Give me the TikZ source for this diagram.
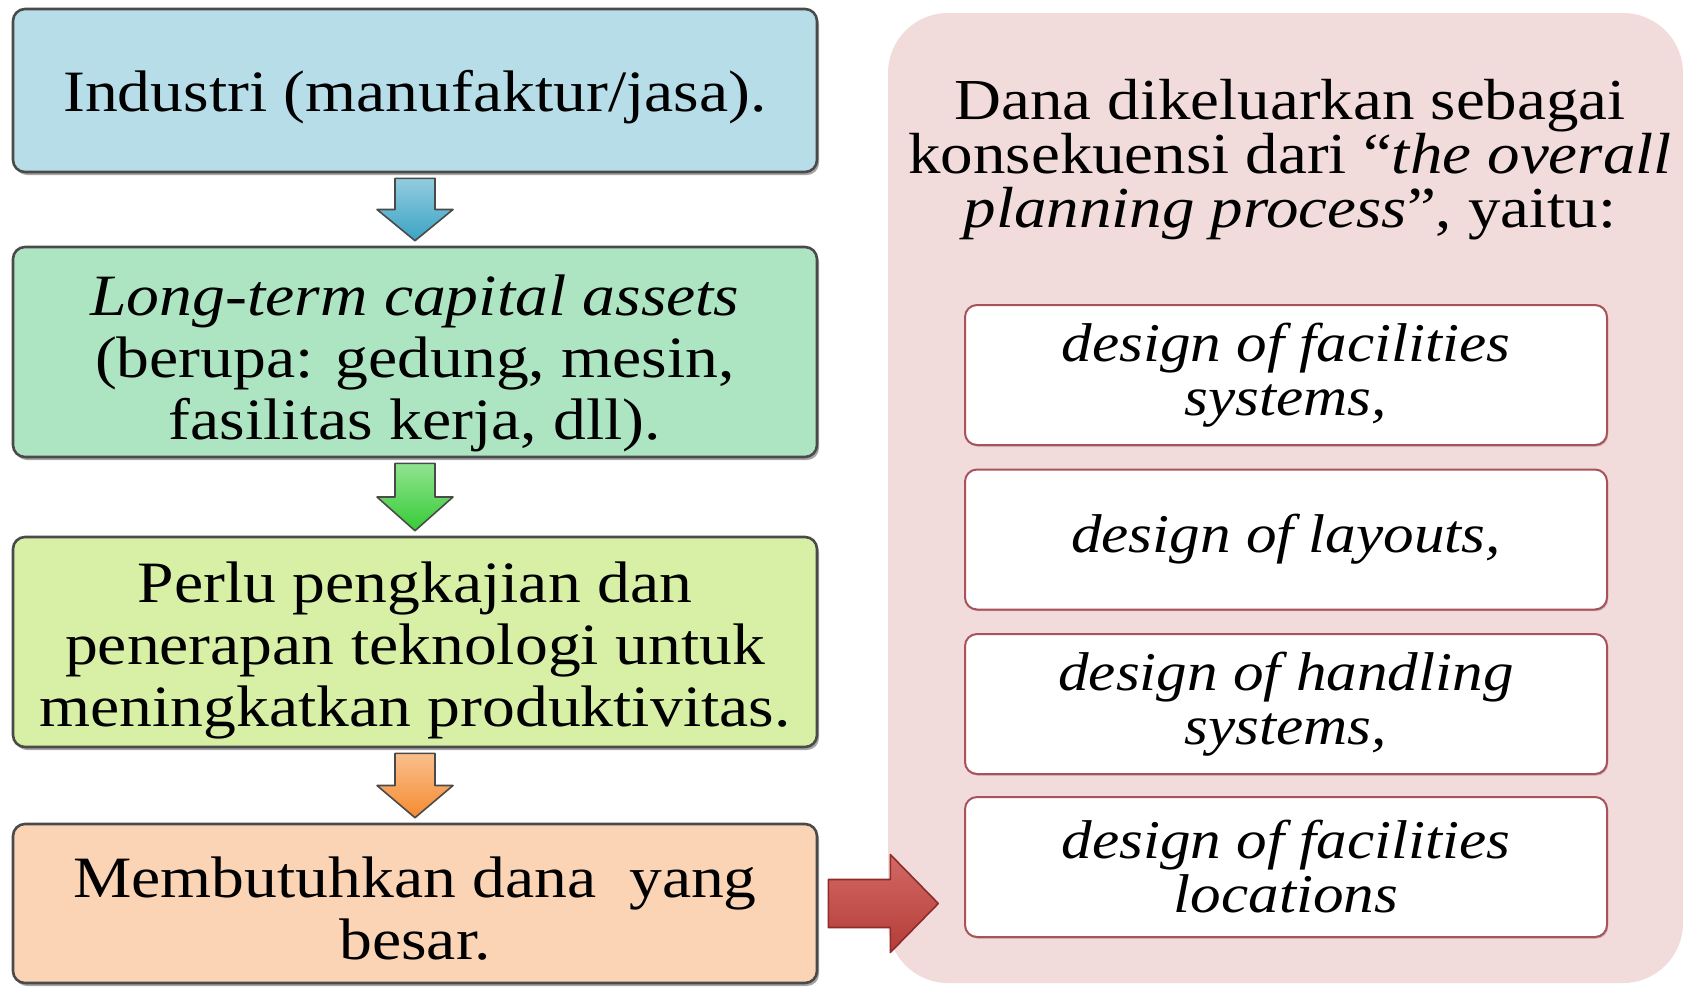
\documentclass[tikz,border=0pt]{standalone}
\usepackage{fontspec}
\setmainfont{Liberation Serif}[FakeStretch=1.12]
\usetikzlibrary{calc,shadows}

\definecolor{boxblue}{HTML}{B7DDE8}
\definecolor{boxgreen}{HTML}{ADE5C2}
\definecolor{boxlime}{HTML}{D8EFA6}
\definecolor{boxpeach}{HTML}{FBD4B6}
\definecolor{panelpink}{HTML}{F2DCDB}
\definecolor{itemline}{HTML}{A8525A}
\definecolor{edgegray}{HTML}{4A4A4A}
\definecolor{arrowblue}{HTML}{3AA3C4}
\definecolor{arrowgreen}{HTML}{36CC36}
\definecolor{arroworange}{HTML}{F58B30}
\definecolor{arrowred}{HTML}{C8433E}
\definecolor{arrowreddark}{HTML}{8E2B2B}

% block arrow pointing down from node #1 to node #2, filled with colour #3
\newcommand{\flowarrow}[3]{%
  \path[draw=edgegray, line width=0.8pt, line join=round,
        top color=#3!55!white, bottom color=#3]
    let \p1=(#1.south), \p2=(#2.north), \p3=($(#1.south)!0.5!(#2.north)$) in
    (\x1-10pt,\y1-2.5pt) -- (\x1+10pt,\y1-2.5pt) -- (\x1+10pt,\y3)
    -- (\x1+19pt,\y3) -- (\x1,\y2+2.5pt) -- (\x1-19pt,\y3)
    -- (\x1-10pt,\y3) -- cycle;}

\begin{document}
\begin{tikzpicture}[x=0.5pt,y=-0.5pt,
  stepbox/.style={draw=edgegray, line width=1.3pt, rounded corners=6pt,
    minimum width=402pt, inner sep=0pt,
    drop shadow={shadow xshift=1pt, shadow yshift=-1.5pt, opacity=0.35, fill=black}},
  steptext/.style={align=center, inner sep=0pt, font=\fontsize{29.3}{31}\selectfont},
  itembox/.style={draw=itemline, line width=1pt, rounded corners=6pt, fill=white,
    minimum width=321pt, minimum height=70pt, align=center, inner sep=0pt,
    font=\fontsize{27.3}{27}\selectfont\itshape,
    drop shadow={shadow xshift=0.6pt, shadow yshift=-0.8pt, opacity=0.2, fill=black}},
  panelbox/.style={fill=panelpink, rounded corners=30pt,
    minimum width=397.5pt, minimum height=485pt, inner sep=0pt},
  titletext/.style={align=center, inner sep=0pt, font=\fontsize{29}{27}\selectfont}
]
\useasboundingbox (0,0) rectangle (1685,986);

% right-hand panel with its list of planning items
\node[panelbox] (panel) at (1285.5,498) {};
\node[titletext] (title) at (1290,160)
  {Dana dikeluarkan sebagai\\konsekuensi dari “\textit{the overall}\\\textit{planning process}”, yaitu:};
\node[itembox] (d1) at (1286,375)   {design of facilities\\systems,};
\node[itembox] (d2) at (1286,539.5) {design of layouts,};
\node[itembox] (d3) at (1286,704)   {design of handling\\systems,};
\node[itembox] (d4) at (1286,867)   {design of facilities\\locations};

% left-hand flow: boxes, then their texts
\node[stepbox, fill=boxblue,  minimum height=81.5pt] (b1) at (415,90.5)  {};
\node[stepbox, fill=boxgreen, minimum height=105pt]  (b2) at (415,352)   {};
\node[stepbox, fill=boxlime,  minimum height=105pt]  (b3) at (415,642)   {};
\node[stepbox, fill=boxpeach, minimum height=79.5pt] (b4) at (415,903.5) {};

\node[steptext] (t1) at ($(b1.center)+(0,7)$)
  {Industri (manufaktur/jasa).};
\node[steptext] (t2) at ($(b2.center)+(0,11)$)
  {\textit{Long-term capital assets}\\(berupa: gedung, mesin,\\fasilitas kerja, dll).};
\node[steptext] (t3) at ($(b3.center)+(0,8)$)
  {Perlu pengkajian dan\\penerapan teknologi untuk\\meningkatkan produktivitas.};
\node[steptext] (t4) at ($(b4.center)+(0,5)$)
  {Membutuhkan dana~ yang\\besar.};

\flowarrow{b1}{b2}{arrowblue}
\flowarrow{b2}{b3}{arrowgreen}
\flowarrow{b3}{b4}{arroworange}

% arrow from the last step into the panel
\path[draw=arrowreddark, line width=0.8pt, line join=round,
      top color=arrowred!80!white, bottom color=arrowred!90!black]
  let \p1=($(b4.east)+(5pt,0pt)$) in
  (\x1,\y1+12pt) -- (\x1+31pt,\y1+12pt) -- (\x1+31pt,\y1+24.5pt)
  -- (\x1+55pt,\y1) -- (\x1+31pt,\y1-24.5pt) -- (\x1+31pt,\y1-12pt)
  -- (\x1,\y1-12pt) -- cycle;
\end{tikzpicture}
\end{document}
